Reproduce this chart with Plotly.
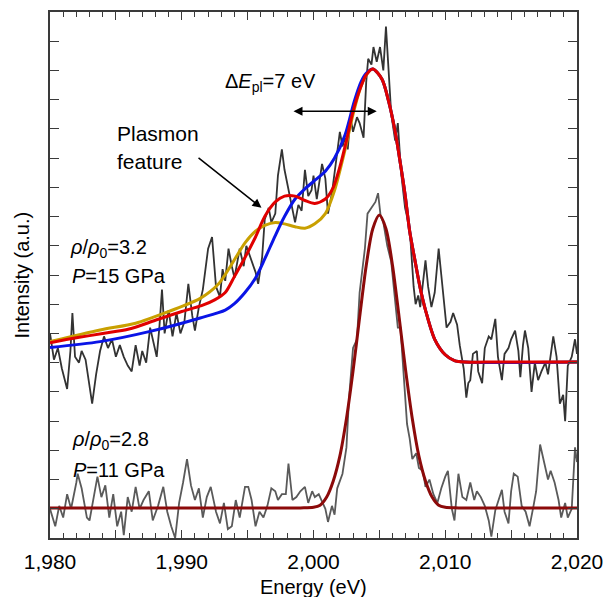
import plotly.graph_objects as go

# ---- measured spectra (energy in eV, intensity in arbitrary units) ----
upper_energy = [1980.0, 1980.3, 1980.6, 1980.9, 1981.3, 1981.55, 1981.7, 1981.9, 1982.2, 1982.4,
                1982.7, 1983.0, 1983.2, 1983.5, 1983.8, 1984.1, 1984.4, 1984.7, 1985.0, 1985.3,
                1985.6, 1985.9, 1986.2, 1986.5, 1986.8, 1987.0, 1987.3, 1987.6, 1987.9, 1988.1,
                1988.3, 1988.5, 1988.7, 1989.0, 1989.3, 1989.6, 1989.9, 1990.2, 1990.5, 1990.8,
                1991.0, 1991.3, 1991.6, 1992.0, 1992.3, 1992.6, 1992.9, 1993.1, 1993.3, 1993.55,
                1993.8, 1994.0, 1994.4, 1994.7, 1994.9, 1995.2, 1995.6, 1995.8, 1996.1, 1996.3,
                1996.6, 1996.8, 1997.1, 1997.3, 1997.6, 1997.8, 1998.1, 1998.3, 1998.6, 1998.85,
                1999.1, 1999.35, 1999.6, 1999.85, 2000.0, 2000.25, 2000.45, 2000.65, 2000.9, 2001.1,
                2001.4, 2001.6, 2001.8, 2002.0, 2002.2, 2002.4, 2002.6, 2002.8, 2003.0, 2003.3,
                2003.5, 2003.8, 2004.0, 2004.15, 2004.4, 2004.55, 2004.8, 2005.05, 2005.3, 2005.5,
                2005.7, 2005.9, 2006.2, 2006.4, 2006.65, 2006.95, 2007.3, 2007.6, 2007.75, 2007.95,
                2008.1, 2008.35, 2008.5, 2008.7, 2008.95, 2009.2, 2009.5, 2009.7, 2010.0, 2010.1,
                2010.4, 2010.6, 2010.9, 2011.1, 2011.4, 2011.6, 2011.75, 2011.9, 2012.1, 2012.4,
                2012.5, 2012.8, 2013.0, 2013.3, 2013.5, 2013.8, 2014.0, 2014.3, 2014.5, 2014.8,
                2015.0, 2015.3, 2015.55, 2015.7, 2015.9, 2016.05, 2016.3, 2016.55, 2016.8, 2017.05,
                2017.3, 2017.6, 2017.8, 2018.1, 2018.2, 2018.45, 2018.7, 2018.95, 2019.1, 2019.3,
                2019.6, 2019.85, 2020.0]
upper_intensity = [7.0, 6.1, 6.5, 5.8, 5.1, 6.4, 7.7, 6.2, 6.0, 6.4,
                   6.1, 5.2, 4.6, 5.6, 6.4, 6.9, 6.5, 6.8, 6.2, 6.6,
                   6.2, 5.9, 5.7, 6.6, 5.9, 6.4, 6.0, 7.2, 6.6, 6.2,
                   7.2, 8.5, 7.0, 7.8, 6.9, 7.7, 7.0, 7.4, 8.7, 7.6,
                   7.1, 7.9, 8.5, 9.9, 10.3, 8.6, 8.25, 9.2, 8.8, 9.9,
                   9.3, 8.9, 9.9, 9.3, 10.0, 9.6, 9.1, 8.7, 9.6, 10.9,
                   11.3, 10.8, 11.1, 12.4, 13.3, 12.6, 11.9, 11.4, 10.8, 11.4,
                   11.2, 12.6, 11.7, 11.9, 12.4, 11.6, 12.2, 12.8, 12.3, 11.1,
                   11.8, 12.6, 13.2, 13.9, 13.4, 13.7, 13.3, 14.4, 13.9, 14.4,
                   14.2, 13.7, 15.6, 16.4, 16.2, 16.8, 16.3, 16.8, 16.0, 17.5,
                   15.9, 14.5, 13.6, 14.2, 12.5, 11.3, 10.6, 8.6, 8.0, 8.3,
                   7.9, 9.0, 9.5, 8.6, 7.9, 8.4, 9.9, 9.0, 7.8, 7.2,
                   7.4, 7.7, 7.3, 6.6, 5.8, 4.8, 5.3, 5.4, 6.3, 6.4,
                   5.7, 5.3, 6.5, 6.9, 6.8, 7.5, 6.2, 5.4, 6.3, 6.5,
                   6.8, 7.1, 6.4, 5.5, 6.6, 7.1, 6.5, 5.0, 6.0, 5.4,
                   5.7, 6.0, 5.6, 6.6, 6.9, 6.2, 4.6, 4.9, 4.0, 5.9,
                   6.2, 6.8, 6.3]

lower_energy = [1980.0, 1980.4, 1980.7, 1981.0, 1981.3, 1981.6, 1982.0, 1982.1, 1982.4, 1982.8,
                1983.0, 1983.3, 1983.6, 1983.9, 1984.2, 1984.5, 1984.8, 1985.1, 1985.4, 1985.6,
                1985.9, 1986.2, 1986.5, 1986.8, 1987.1, 1987.5, 1987.8, 1988.2, 1988.6, 1988.9,
                1989.2, 1989.5, 1989.8, 1990.1, 1990.4, 1990.7, 1991.0, 1991.3, 1991.6, 1991.9,
                1992.2, 1992.6, 1992.9, 1993.2, 1993.5, 1993.8, 1994.1, 1994.4, 1994.8, 1995.05,
                1995.3, 1995.6, 1995.9, 1996.2, 1996.5, 1996.8, 1997.1, 1997.3, 1997.6, 1997.9,
                1998.1, 1998.4, 1998.7, 1999.0, 1999.35, 1999.6, 1999.9, 2000.1, 2000.4, 2000.6,
                2000.9, 2001.1, 2001.4, 2001.6, 2001.8, 2002.2, 2002.5, 2002.7, 2003.0, 2003.3,
                2003.5, 2003.9, 2004.1, 2004.4, 2004.7, 2004.9, 2005.1, 2005.3, 2005.6, 2005.9,
                2006.2, 2006.4, 2006.6, 2006.8, 2007.1, 2007.3, 2007.5, 2007.8, 2008.0, 2008.3,
                2008.5, 2008.8, 2009.1, 2009.4, 2009.7, 2010.0, 2010.2, 2010.5, 2010.7, 2011.0,
                2011.3, 2011.6, 2011.9, 2012.2, 2012.4, 2012.7, 2013.0, 2013.3, 2013.5, 2013.8,
                2014.0, 2014.3, 2014.5, 2014.8, 2015.0, 2015.2, 2015.5, 2015.8, 2016.1, 2016.4,
                2016.7, 2016.9, 2017.2, 2017.5, 2017.8, 2018.0, 2018.3, 2018.6, 2018.8, 2019.1,
                2019.3, 2019.6, 2019.85, 2020.0]
lower_intensity = [1.0, 0.4, 1.1, 0.7, 1.5, 1.0, 1.9, 2.2, 1.7, 0.7,
                   0.6, 1.3, 2.1, 1.4, 1.8, 0.7, 1.5, 0.4, 0.9, 0.1,
                   1.4, 0.9, 1.75, 1.0, 1.3, 1.6, 0.6, 1.1, 1.75, 0.9,
                   0.4, 0.0, 1.2, 1.9, 2.7, 1.8, 1.3, 1.7, 0.7, 1.4,
                   1.75, 0.9, 0.5, 1.2, 0.3, 0.4, 1.3, 0.7, 1.75, 1.75,
                   1.3, 0.4, 0.9, 0.7, 1.1, 1.7, 1.6, 1.3, 1.5, 1.5,
                   2.55, 1.3, 1.4, 1.6, 1.75, 1.2, 1.6, 1.4, 1.5, 1.3,
                   1.0, 0.55, 1.1, 0.8, 1.7, 2.2, 3.1, 4.8, 6.5, 6.8,
                   8.4, 9.9, 11.1, 11.3, 11.5, 11.8, 11.0, 10.8, 10.0, 9.45,
                   8.1, 7.2, 7.2, 6.0, 3.9, 3.4, 2.7, 2.9, 2.4, 2.3,
                   1.75, 2.0, 1.5, 1.2, 1.7, 2.1, 2.3, 1.0, 0.6, 2.2,
                   1.4, 1.3, 1.9, 1.3, 1.6, 1.4, 1.1, 0.6, 0.05, 0.95,
                   1.2, 1.65, 0.9, 0.5, 1.6, 2.2, 2.1, 1.1, 0.9, 0.4,
                   1.1, 1.6, 3.2, 2.6, 2.0, 2.3, 1.9, 1.3, 0.7, 1.2,
                   0.7, 1.0, 3.1, 2.6]

# ---- model curves ----
red_energy = [1980.0, 1982.0, 1984.0, 1986.0, 1988.0, 1990.0, 1991.5, 1992.5, 1993.3, 1994.0,
              1994.8, 1995.6, 1996.3, 1997.1, 1997.8, 1998.6, 1999.35, 2000.1, 2000.9, 2001.5,
              2002.0, 2002.5, 2003.0, 2003.6, 2004.0, 2004.5, 2005.2, 2005.7, 2006.2, 2006.6,
              2006.95, 2007.3, 2007.7, 2008.1, 2008.5, 2009.2, 2010.0, 2010.7, 2011.5, 2013.0,
              2020.0]
red_intensity = [6.68, 6.85, 7.0, 7.15, 7.45, 7.75, 7.95, 8.15, 8.4, 8.95,
                 9.6, 10.3, 11.0, 11.5, 11.7, 11.7, 11.55, 11.45, 11.6, 12.0,
                 12.7, 13.6, 14.6, 15.45, 15.85, 16.05, 15.7, 14.95, 13.9, 12.8,
                 11.75, 10.5, 9.5, 8.55, 7.8, 6.8, 6.27, 6.07, 6.02, 6.02,
                 6.02]

blue_energy = [1980.0, 1983.8, 1987.6, 1991.4, 1993.3, 1994.0, 1994.8, 1995.6, 1996.3, 1997.1,
               1997.8, 1998.6, 1999.35, 2000.0, 2000.9, 2001.6, 2002.4, 2003.1, 2003.6, 2004.0,
               2004.5, 2005.2, 2005.7, 2006.2, 2006.6, 2006.95, 2007.3, 2007.7, 2008.1, 2008.5,
               2009.2, 2010.0, 2010.7, 2011.5, 2020.0]
blue_intensity = [6.52, 6.72, 7.07, 7.53, 7.8, 8.02, 8.4, 8.9, 9.55, 10.35,
                  11.0, 11.6, 11.95, 12.2, 12.55, 13.0, 13.8, 14.95, 15.6, 15.9,
                  16.05, 15.7, 14.95, 13.9, 12.8, 11.75, 10.5, 9.5, 8.55, 7.8,
                  6.8, 6.27, 6.07, 6.02, 6.02]

gold_energy = [1980.0, 1983.8, 1986.5, 1989.0, 1991.4, 1992.8, 1993.7, 1994.8, 1995.6, 1996.3,
               1997.1, 1997.8, 1998.6, 1999.35, 2000.1, 2000.9, 2001.6, 2002.4, 2003.0, 2003.6,
               2004.0, 2004.5, 2005.2, 2005.7, 2006.2, 2006.6, 2006.95, 2007.3, 2007.7, 2008.1,
               2008.5, 2009.2, 2010.0, 2010.7, 2011.5, 2020.0]
gold_intensity = [6.72, 7.12, 7.35, 7.75, 8.2, 8.7, 9.3, 10.1, 10.5, 10.7,
                  10.8, 10.75, 10.65, 10.6, 10.75, 11.1, 11.9, 13.3, 14.5, 15.45,
                  15.85, 16.05, 15.7, 14.95, 13.9, 12.8, 11.75, 10.5, 9.5, 8.55,
                  7.8, 6.8, 6.27, 6.07, 6.02, 6.02]

lower_fit_energy = [1980.0, 1999.0, 2000.0, 2000.5, 2001.0, 2001.5, 2002.0, 2002.5, 2003.0, 2003.5,
                    2004.0, 2004.5, 2005.0, 2005.5, 2006.0, 2006.5, 2007.0, 2007.5, 2008.0, 2008.5,
                    2009.0, 2009.5, 2010.0, 2011.0, 2020.0]
lower_fit_intensity = [1.03, 1.03, 1.05, 1.12, 1.4, 1.95, 2.8, 4.08, 5.71, 7.55,
                       9.32, 10.58, 11.05, 10.58, 9.32, 7.55, 5.71, 4.08, 2.8, 1.95,
                       1.4, 1.12, 1.05, 1.03, 1.03]

FONT = "Liberation Sans, Arial, Helvetica, sans-serif"
TEXT_FONT = dict(family=FONT, size=20, color="black")
AXIS_COLOR = "#3a3a3a"

fig = go.Figure()

fig.add_trace(go.Scatter(x=lower_energy, y=lower_intensity, mode="lines",
                         line=dict(color="#5a5a5a", width=1.8)))
fig.add_trace(go.Scatter(x=lower_fit_energy, y=lower_fit_intensity, mode="lines",
                         line=dict(color="#8c0a0a", width=3, shape="spline", smoothing=0.8)))

fig.add_trace(go.Scatter(x=upper_energy, y=upper_intensity, mode="lines",
                         line=dict(color="#333333", width=1.8)))
fig.add_trace(go.Scatter(x=gold_energy, y=gold_intensity, mode="lines",
                         line=dict(color="#c9a000", width=3, shape="spline", smoothing=0.8)))
fig.add_trace(go.Scatter(x=blue_energy, y=blue_intensity, mode="lines",
                         line=dict(color="#0a14e6", width=3, shape="spline", smoothing=0.8)))
fig.add_trace(go.Scatter(x=red_energy, y=red_intensity, mode="lines",
                         line=dict(color="#e00000", width=3, shape="spline", smoothing=0.8)))


def label(x, y, text, size=20):
    return dict(x=x, y=y, xref="x", yref="y", xanchor="left", yanchor="middle",
                text=text, showarrow=False, font=dict(family=FONT, size=size, color="black"))


annotations = [
    label(1993.13, 15.58, "Δ<i>E</i><sub>pl</sub>=7 eV"),
    label(1984.9, 13.85, "Plasmon", size=21),
    label(1984.9, 12.9, "feature", size=21),
    label(1981.4, 9.92, "<i>ρ</i>/<i>ρ</i><sub>0</sub>=3.2"),
    label(1981.5, 8.97, "<i>P</i>=15 GPa"),
    label(1981.55, 3.35, "<i>ρ</i>/<i>ρ</i><sub>0</sub>=2.8"),
    label(1981.6, 2.33, "<i>P</i>=11 GPa"),
    # axis titles
    dict(x=0.5, y=-0.093, xref="paper", yref="paper", xanchor="center", yanchor="middle",
         text="Energy (eV)", showarrow=False, font=TEXT_FONT),
    dict(x=-0.054, y=0.5, xref="paper", yref="paper", xanchor="center", yanchor="middle",
         text="Intensity (a.u.)", textangle=-90, showarrow=False, font=TEXT_FONT),
    # arrow pointing at the plasmon shoulder
    dict(x=1996.05, y=11.3, ax=1991.16, ay=13.05, xref="x", yref="y", axref="x", ayref="y",
         text="", showarrow=True, arrowhead=2, arrowsize=1.2, arrowwidth=1.5, arrowcolor="black",
         font=TEXT_FONT),
    # double arrow marking the plasmon shift
    dict(x=2004.8, y=14.6, ax=1998.37, ay=14.6, xref="x", yref="y", axref="x", ayref="y",
         text="", showarrow=True, arrowhead=2, startarrowhead=2, arrowside="end+start",
         arrowsize=1.2, startarrowsize=1.2, arrowwidth=1.5, arrowcolor="black",
         font=TEXT_FONT),
]

fig.update_layout(
    width=605, height=597,
    margin=dict(l=50, r=28, t=12, b=59, autoexpand=False),
    paper_bgcolor="white", plot_bgcolor="white",
    showlegend=False,
    font=TEXT_FONT,
    annotations=annotations,
)

# long ticks every 5 eV (labelled every 10 eV), short ticks every 1 eV
fig.update_xaxes(
    range=[1980, 2020], automargin=False,
    tick0=1980, dtick=5, ticklabelstep=2, tickformat=",d",
    ticks="inside", ticklen=8, tickwidth=1.2, tickcolor=AXIS_COLOR,
    minor=dict(dtick=1, ticks="inside", ticklen=5, tickwidth=1.2, tickcolor=AXIS_COLOR),
    showline=True, linewidth=1.5, linecolor=AXIS_COLOR, mirror="ticks",
    showgrid=False, zeroline=False,
    tickfont=dict(family=FONT, size=21, color="black"),
    ticklabelstandoff=4,
)
fig.update_yaxes(
    range=[0, 18], automargin=False,
    tick0=0, dtick=1, showticklabels=False,
    ticks="inside", ticklen=9, tickwidth=1.2, tickcolor=AXIS_COLOR,
    showline=True, linewidth=1.5, linecolor=AXIS_COLOR, mirror="ticks",
    showgrid=False, zeroline=False,
)

fig.write_html("out.html")
